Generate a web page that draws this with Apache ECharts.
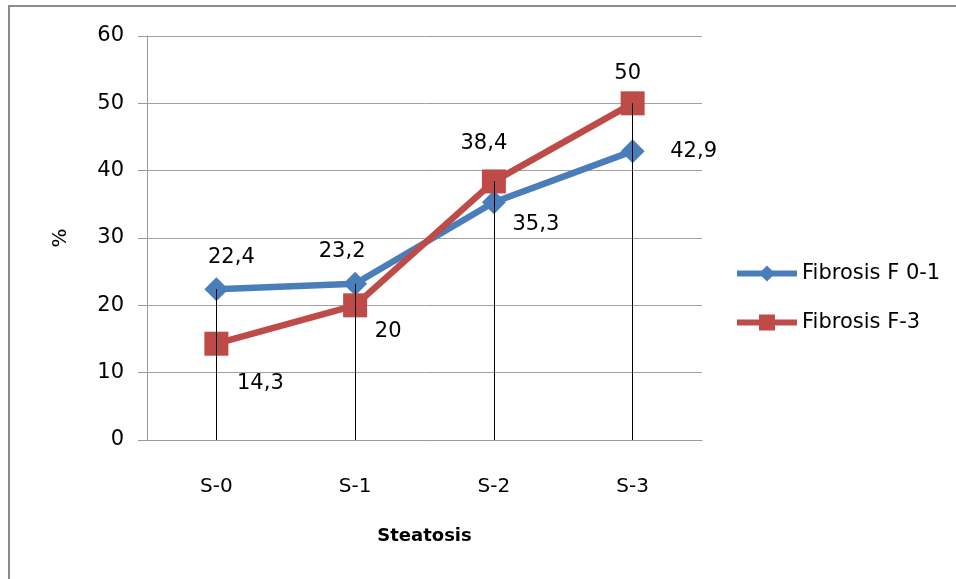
<!DOCTYPE html>
<html>
<head>
<meta charset="utf-8">
<script src="https://cdn.jsdelivr.net/npm/echarts@6/dist/echarts.min.js"></script>
<style>html,body{margin:0;padding:0;background:#fff}#c{width:956px;height:579px}</style>
</head>
<body>
<div id="c"></div>
<script>
var categories = ['S-0', 'S-1', 'S-2', 'S-3'];
var seriesNames = ['Fibrosis F 0-1', 'Fibrosis F-3'];
var fibrosisF01 = [22.4, 23.2, 35.3, 42.9];
var fibrosisF3 = [14.3, 20, 38.4, 50];
var yTicks = [0, 10, 20, 30, 40, 50, 60];

// label placement (styling only)
var offsF01 = [[15, -32], [-13, -32], [42, 22], [61, 0]];
var offsF3 = [[44, 40], [33, 26], [-10, -38], [-5, -30]];

var FONT = 'DejaVu Sans';
function fmt(v) { return String(v).replace('.', ','); }
function withLabels(vals, offs) {
  return vals.map(function (v, i) {
    return { value: v, label: { offset: offs[i] } };
  });
}
var dropLines = categories.map(function (c, i) {
  return [{ coord: [i, 0] }, { coord: [i, Math.max(fibrosisF01[i], fibrosisF3[i])] }];
});

var chart = echarts.init(document.getElementById('c'), null, { renderer: 'canvas' });
var labelCommon = {
  show: true, position: 'inside', color: '#000', fontFamily: FONT, fontSize: 21,
  formatter: function (p) { return fmt(p.value); }
};
chart.setOption({
  animation: false,
  backgroundColor: '#fff',
  graphic: [{
    type: 'rect', shape: { x: 9, y: 6, width: 1200, height: 1200 },
    style: { fill: 'none', stroke: '#8c8c8c', lineWidth: 2 }, silent: true
  }],
  grid: { left: 147, right: 254, top: 36, bottom: 139 },
  legend: {
    orient: 'vertical', left: 729, top: 258, itemWidth: 60, itemHeight: 20, itemGap: 28,
    lineStyle: { width: 6 },
    textStyle: { fontFamily: FONT, fontSize: 21, color: '#000' },
    data: seriesNames
  },
  xAxis: {
    type: 'category', data: categories, boundaryGap: true,
    name: 'Steatosis', nameLocation: 'middle', nameGap: 87,
    nameTextStyle: { fontFamily: FONT, fontSize: 18, fontWeight: 'bold', color: '#000' },
    axisLine: { lineStyle: { color: '#9a9a9a', width: 1 } },
    axisTick: { show: false },
    axisLabel: { fontFamily: FONT, fontSize: 20, color: '#000', margin: 37 }
  },
  yAxis: {
    type: 'value', min: 0, max: 60, interval: 10,
    name: '%', nameLocation: 'middle', nameGap: 76, nameRotate: 90,
    nameTextStyle: { fontFamily: FONT, fontSize: 20, color: '#000' },
    axisLine: { show: true, lineStyle: { color: '#9a9a9a', width: 1 } },
    axisTick: { show: true, length: 9, lineStyle: { color: '#9a9a9a' } },
    axisLabel: { fontFamily: FONT, fontSize: 21, color: '#000', margin: 23,
      formatter: function (v) { return yTicks.indexOf(v) >= 0 ? String(v) : ''; } },
    splitLine: { lineStyle: { color: '#a0a0a0', width: 1 } }
  },
  series: [
    {
      name: seriesNames[0], type: 'line', data: withLabels(fibrosisF01, offsF01),
      symbol: 'diamond', symbolSize: 24,
      lineStyle: { color: '#4a7ebb', width: 6.5 },
      itemStyle: { color: '#4a7ebb' },
      label: labelCommon, z: 3
    },
    {
      name: seriesNames[1], type: 'line', data: withLabels(fibrosisF3, offsF3),
      symbol: 'rect', symbolSize: 24,
      lineStyle: { color: '#be4b48', width: 6.5 },
      itemStyle: { color: '#be4b48' },
      label: labelCommon, z: 4
    },
    {
      name: 'drop', type: 'line', data: [], z: 10, silent: true,
      markLine: {
        silent: true, symbol: 'none', animation: false,
        label: { show: false },
        lineStyle: { color: '#000', width: 1, type: 'solid' },
        data: dropLines
      }
    }
  ]
});
</script>
</body>
</html>
